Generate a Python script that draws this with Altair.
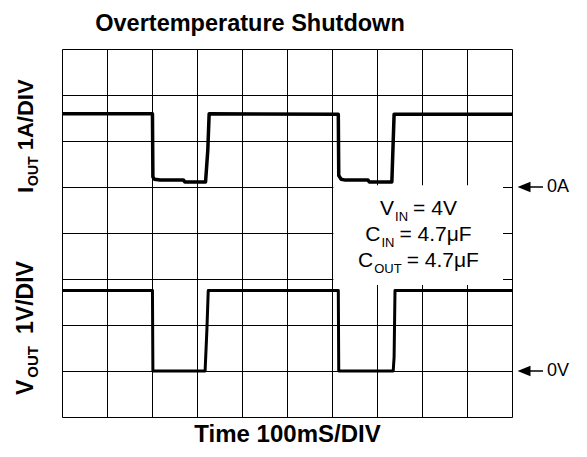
import altair as alt
import pandas as pd

# ---------------- data ----------------
# time in ms (100 ms/div), I_OUT in A (1 A/div, 0 A at division 5),
# V_OUT in V (1 V/div, 0 V at division 1)
cur_t = [0, 201, 202, 205, 218, 270, 273, 319, 324, 327, 614, 615, 620, 630, 680, 683, 733, 738, 1000]
cur_a = [1.59, 1.59, 0.22, 0.17, 0.15, 0.15, 0.11, 0.11, 0.80, 1.59, 1.58, 0.25, 0.17, 0.15, 0.15, 0.11, 0.11, 1.58, 1.58]
volt_t = [0, 201, 202, 318, 322, 325, 614, 615, 736, 738, 740, 1000]
volt_v = [1.75, 1.75, 0.0, 0.0, 0.9, 1.75, 1.75, 0.0, 0.0, 0.3, 1.75, 1.75]

I_ZERO_DIV = 5
V_ZERO_DIV = 1
x_grid = list(range(0, 1001, 100))
y_grid = list(range(0, 9))

FONT = "Liberation Sans"

cur_df = pd.DataFrame({"t": cur_t, "d": [I_ZERO_DIV + a for a in cur_a], "o": range(len(cur_t))})
volt_df = pd.DataFrame({"t": volt_t, "d": [V_ZERO_DIV + v for v in volt_v], "o": range(len(volt_t))})

# pixel helpers for annotation placement (plot is 450 x 368 px, 10 x 8 div)
PX_X = 1000 / 450.0
PX_Y = 8 / 368.0


def sx(px):
    return (px - 62) * PX_X


def sy(py):
    return (417 - py) * PX_Y


AR = {"V": .667, "C": .722, "I": .278, "N": .722, "O": .778, "U": .722, "T": .611,
      " ": .278, "=": .584, "4": .556, ".": .278, "7": .556, "μ": .576, "F": .611,
      "1": .556, "A": .722, "/": .278, "D": .722}


def tw(s, fs):
    return sum(AR.get(c, .6) for c in s) * fs


MAIN, SUB, GAP = 21, 13, 5
lines = [("V", "IN", "= 4V", 215), ("C", "IN", "= 4.7μF", 241), ("C", "OUT", "= 4.7μF", 267)]
pieces = []
for a, b, c, base in lines:
    total = tw(a, MAIN) + tw(b, SUB) + GAP + tw(c, MAIN)
    x0 = 418 - total / 2
    pieces.append({"x": sx(x0), "y": sy(base), "text": a, "fs": MAIN})
    x1 = x0 + tw(a, MAIN) + 1
    pieces.append({"x": sx(x1), "y": sy(base + 6), "text": b, "fs": SUB})
    x2 = x1 + tw(b, SUB) + GAP
    pieces.append({"x": sx(x2), "y": sy(base), "text": c, "fs": MAIN})
box_text_df = pd.DataFrame(pieces)

# rotated axis labels: (main, subscript, rest, start y px, main size, sub size, gap1, gap2)
ylab = []
for a, b, c, start, fm, fsb, g1, g2 in [("I", "OUT", "1A/DIV", 193, 22, 14, 1, 6),
                                         ("V", "OUT", "1V/DIV", 395, 23, 15, 2, 12)]:
    y1 = start - tw(a, fm) - g1
    y2 = y1 - tw(b, fsb) - g2
    ylab.append({"x": sx(33), "y": sy(start), "text": a, "fs": fm})
    ylab.append({"x": sx(38), "y": sy(y1), "text": b, "fs": fsb})
    ylab.append({"x": sx(33), "y": sy(y2), "text": c, "fs": fm})
ylab_df = pd.DataFrame(ylab)

box_df = pd.DataFrame({"x": [603], "x2": [980], "y": [2.87], "y2": [5.04]})
arrow_df = pd.DataFrame({"x": [sx(524)] * 2, "xs": [sx(529)] * 2, "xe": [sx(543)] * 2,
                         "xt": [sx(547)] * 2, "y": [I_ZERO_DIV, V_ZERO_DIV], "label": ["0A", "0V"]})

xs = alt.Scale(domain=[0, 1000], nice=False, zero=False)
ys = alt.Scale(domain=[0, 8], nice=False, zero=False)

base = alt.Chart(box_df).mark_rect(fill="white", stroke=None).encode(
    x=alt.X("x:Q", scale=xs, axis=alt.Axis(values=x_grid, grid=True, labels=False, ticks=False,
                                           domain=False, title="Time 100mS/DIV", titleFont=FONT,
                                           titleFontSize=24, titleFontWeight="bold",
                                           titleColor="black", titlePadding=5,
                                           gridColor="black", gridOpacity=1, gridWidth=1)),
    x2="x2:Q",
    y=alt.Y("y:Q", scale=ys, axis=alt.Axis(values=y_grid, grid=True, labels=False, ticks=False,
                                           domain=False, title=None,
                                           gridColor="black", gridOpacity=1, gridWidth=1)),
    y2="y2:Q",
)

cur_line = alt.Chart(cur_df).mark_line(color="black", strokeWidth=3.5, strokeJoin="round",
                                       clip=True).encode(
    x=alt.X("t:Q", scale=xs), y=alt.Y("d:Q", scale=ys), order="o:Q")
volt_line = alt.Chart(volt_df).mark_line(color="black", strokeWidth=3, strokeJoin="round",
                                         clip=True).encode(
    x=alt.X("t:Q", scale=xs), y=alt.Y("d:Q", scale=ys), order="o:Q")

box_text = alt.Chart(box_text_df).mark_text(align="left", baseline="alphabetic", font=FONT,
                                            color="black").encode(
    x=alt.X("x:Q", scale=xs), y=alt.Y("y:Q", scale=ys), text="text:N",
    size=alt.Size("fs:Q", scale=None, legend=None))

ylab_text = alt.Chart(ylab_df).mark_text(align="left", baseline="alphabetic", font=FONT,
                                         fontWeight="bold", angle=270, color="black").encode(
    x=alt.X("x:Q", scale=xs), y=alt.Y("y:Q", scale=ys), text="text:N",
    size=alt.Size("fs:Q", scale=None, legend=None))

heads = alt.Chart(arrow_df).mark_point(shape="M-1,0L1,-0.8L1,0.8Z", size=169, filled=True,
                                       color="black", opacity=1).encode(
    x=alt.X("x:Q", scale=xs), y=alt.Y("y:Q", scale=ys))
shafts = alt.Chart(arrow_df).mark_rule(color="black", strokeWidth=1.5).encode(
    x=alt.X("xs:Q", scale=xs), x2="xe:Q", y=alt.Y("y:Q", scale=ys))
arrow_text = alt.Chart(arrow_df).mark_text(align="left", baseline="middle", font=FONT,
                                           fontSize=18, color="black").encode(
    x=alt.X("xt:Q", scale=xs), y=alt.Y("y:Q", scale=ys), text="label:N")

chart = alt.layer(base, cur_line, volt_line, box_text, ylab_text, heads, shafts, arrow_text).properties(
    width=450, height=368,
    title=alt.TitleParams("Overtemperature Shutdown", font=FONT, fontSize=23.5, fontWeight="bold",
                          color="black", anchor="middle", dx=-37, offset=14),
    autosize=alt.AutoSizeParams(type="none"),
    padding={"left": 54, "top": 41, "right": 67, "bottom": 32},
).configure_view(stroke="black", strokeWidth=2).configure(background="white")

chart.save("out.html", embed_options={"renderer": "svg", "actions": False})
